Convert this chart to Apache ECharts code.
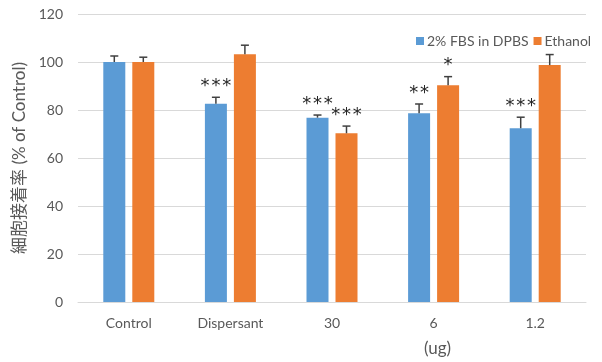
<!DOCTYPE html>
<html><head><meta charset="utf-8">
<script src="https://cdn.jsdelivr.net/npm/echarts@6/dist/echarts.min.js"></script>
<style>html,body{margin:0;padding:0;background:#fff}#c{width:602px;height:362px}</style>
</head><body><div id="c"></div>
<script>
var categories = ['Control', 'Dispersant', '30', '6', '1.2'];
var seriesNames = ['2% FBS in DPBS', 'Ethanol'];
var fbsValues = [100, 82.6, 76.8, 78.6, 72.4];
var fbsErrors = [2.5, 2.7, 1.1, 3.9, 4.6];
var fbsStars = ['', '***', '***', '**', '***'];
var ethValues = [100, 103.2, 70.3, 90.3, 98.7];
var ethErrors = [2.0, 3.8, 3.0, 3.6, 4.4];
var ethStars = ['', '', '***', '*', ''];
var yTicks = [0, 20, 40, 60, 80, 100, 120];

var BAR_W = 22, GAP = 7;
var FONT = 'Lato, "Open Sans", "Noto Sans CJK JP", sans-serif';
var colors = ['#5B9BD5', '#ED7D31'];

function errSeries(vals, errs, stars, side) {
  var data = vals.map(function (v, i) { return [i, v, errs[i], stars[i]]; });
  return {
    type: 'custom',
    silent: true,
    z: 5,
    data: data,
    renderItem: function (params, api) {
      var i = api.value(0), v = api.value(1), e = api.value(2);
      var star = data[params.dataIndex][3];
      var base = api.coord([i, v]);
      var topPt = api.coord([i, v + e]);
      var x = base[0] + side * (BAR_W + GAP) / 2;
      var children = [
        { type: 'line', shape: { x1: x, y1: base[1], x2: x, y2: topPt[1] }, style: { stroke: '#404040', lineWidth: 1.5 } },
        { type: 'line', shape: { x1: x - 4, y1: topPt[1], x2: x + 4, y2: topPt[1] }, style: { stroke: '#404040', lineWidth: 1.5 } }
      ];
      if (star) {
        children.push({ type: 'text', x: x, y: topPt[1] - 2,
          style: { text: star.split('').join('\u200A'), fill: '#262626', font: '18px "DejaVu Sans", sans-serif', textAlign: 'center', textVerticalAlign: 'bottom' } });
      }
      return { type: 'group', children: children };
    }
  };
}

var chart = echarts.init(document.getElementById('c'));
chart.setOption({
  animation: false,
  color: colors,
  textStyle: { fontFamily: FONT },
  grid: { left: 78, right: 16, top: 14, bottom: 60 },
  legend: {
    data: seriesNames, left: 416, top: 34, itemWidth: 8, itemHeight: 8, itemGap: 5,
    icon: 'rect', padding: 0,
    textStyle: { color: '#595959', fontSize: 14, fontFamily: FONT, padding: [0, 0, 0, -2] }
  },
  title: {
    text: '(ug)', left: 419, top: 335,
    textStyle: { color: '#595959', fontSize: 17, fontWeight: 'normal', fontFamily: FONT }
  },
  xAxis: {
    type: 'category', data: categories,
    axisLine: { lineStyle: { color: '#d9d9d9', width: 1 } },
    axisTick: { show: false },
    axisLabel: { color: '#595959', fontSize: 14, margin: 14, fontFamily: FONT }
  },
  yAxis: {
    type: 'value', min: yTicks[0], max: yTicks[yTicks.length - 1], interval: 20,
    name: '細胞接着率 (% of Control)', nameLocation: 'middle', nameGap: 48,
    nameTextStyle: { color: '#595959', fontSize: 17, fontFamily: FONT },
    axisLine: { show: false }, axisTick: { show: false },
    axisLabel: { color: '#595959', fontSize: 14, margin: 15, fontFamily: FONT },
    splitLine: { lineStyle: { color: '#d9d9d9', width: 1 } }
  },
  series: [
    { name: seriesNames[0], type: 'bar', data: fbsValues, barWidth: BAR_W, barGap: (GAP / BAR_W * 100) + '%', itemStyle: { color: colors[0] } },
    { name: seriesNames[1], type: 'bar', data: ethValues, barWidth: BAR_W, itemStyle: { color: colors[1] } },
    errSeries(fbsValues, fbsErrors, fbsStars, -1),
    errSeries(ethValues, ethErrors, ethStars, 1)
  ]
});
</script></body></html>
